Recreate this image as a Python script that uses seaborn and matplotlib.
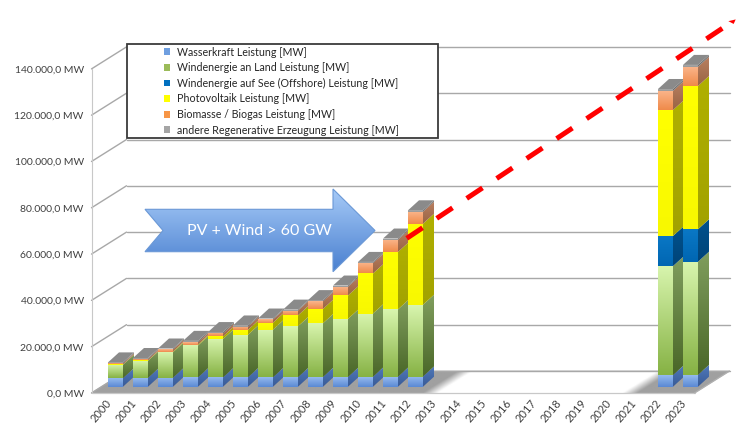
import numpy as np
import matplotlib
matplotlib.use("Agg")
import matplotlib.pyplot as plt
import seaborn as sns
from matplotlib.patches import Polygon, Rectangle, Patch
from matplotlib.colors import to_rgb

# ---------------- data ----------------
years = [str(y) for y in range(2000, 2024)]
gap = [None] * 9  # 2013 - 2021: no values
wasserkraft = [3700, 3800, 3900, 4000, 4000, 4050, 4050, 4100, 4200, 4200, 4300, 4300, 4400] + gap + [5000, 5100]
wind_land = [5800, 7400, 11000, 13800, 16600, 18400, 20600, 22000, 23200, 25100, 27300, 29100, 31000] + gap + [47100, 48900]
wind_see = [0, 0, 0, 0, 0, 0, 0, 0, 0, 0, 0, 0, 0] + gap + [13000, 14000]
photovoltaik = [100, 200, 300, 400, 1100, 2100, 3000, 4700, 6200, 10100, 17300, 24800, 35000] + gap + [54400, 61900]
biomasse = [500, 600, 900, 1000, 1300, 1400, 1400, 2100, 3300, 3800, 4500, 5300, 5200] + gap + [8300, 8300]
andere = [400, 400, 400, 600, 600, 500, 400, 400, 500, 500, 500, 500, 600] + gap + [800, 800]

series_labels = [
    "Wasserkraft Leistung [MW]",
    "Windenergie an Land Leistung [MW]",
    "Windenergie auf See (Offshore) Leistung [MW]",
    "Photovoltaik Leistung [MW]",
    "Biomasse / Biogas Leistung [MW]",
    "andere Regenerative Erzeugung Leistung [MW]",
]
y_tick_values = [0, 20000, 40000, 60000, 80000, 100000, 120000, 140000]
arrow_text = "PV + Wind > 60 GW"
trend_x = [11.65, 24.62]      # category position of the trend arrow
trend_y = [64100, 157300]     # MW

# ---------------- style ----------------
legend_colors = ['#6f9fe0', '#9bbb59', '#0070c0', '#ffff00', '#f79646', '#a5a5a5']
front_top = ['#95baee', '#d8f5ae', '#0a78c6', '#ffff00', '#fbb68c', '#a8a8a8']
front_bot = ['#5a89d4', '#86b244', '#0066b2', '#f8f800', '#ef8a4a', '#989898']
side_top = ['#5079ba', '#809e5e', '#00528e', '#b0b000', '#b98062', '#7c7c7c']
side_bot = ['#385a96', '#4a6728', '#004478', '#a2a200', '#9a6444', '#6a6a6a']
top_face_color = '#8a8a8a'
text_color = '#404040'

sns.set_theme(style="white")
plt.rcParams['font.family'] = ['Lato', 'DejaVu Sans']

W, H = 736, 423
fig = plt.figure(figsize=(W / 100, H / 100), dpi=100)
fig.patch.set_facecolor('white')

# pixel geometry of the pseudo-3D box
X0_PX, DX_PX = 115.5, 25.0
Y0_PX, KY = 386.7, 46.3 / 20000
AX_LEFT_PX, AX_BOTTOM_PX = 88, 396
ax = fig.add_axes([AX_LEFT_PX / W, (H - AX_BOTTOM_PX) / H, (W - AX_LEFT_PX) / W, AX_BOTTOM_PX / H])


def px2data(px, py):
    return ((px - X0_PX) / DX_PX, (Y0_PX - py) / KY)


FRONT_DX, FRONT_DY = -0.4, -6.3 / KY
BACK_DX, BACK_DY = 1.0, 15.7 / KY
BAR_W = 0.6
DEPTH_X, DEPTH_Y = 0.44, 10.0 / KY
n = len(years)
cat_lo, cat_hi = -0.56, n - 1 + 0.56


def grad_poly(verts, c_top, c_bot, z, rows=64):
    poly = Polygon(verts, closed=True, facecolor='none', edgecolor='none', zorder=z)
    ax.add_patch(poly)
    xs = [v[0] for v in verts]
    ys = [v[1] for v in verts]
    t = np.linspace(0, 1, rows)[:, None]
    ct, cb = np.array(to_rgb(c_top)), np.array(to_rgb(c_bot))
    img = (ct * (1 - t) + cb * t)[:, None, :]
    im = ax.imshow(img, extent=(min(xs), max(xs), min(ys), max(ys)), origin='upper',
                   aspect='auto', interpolation='bilinear', zorder=z)
    im.set_clip_path(poly)


# ---------------- floor, walls ----------------
fl, fr = cat_lo + FRONT_DX, cat_hi + FRONT_DX
bl, br = cat_lo + BACK_DX, cat_hi + BACK_DX
floor = [(fl, FRONT_DY), (fr, FRONT_DY), (br, BACK_DY), (bl, BACK_DY)]
floor_poly = Polygon(floor, closed=True, facecolor='white', edgecolor='#c8c8c8', lw=0.9, zorder=1)
ax.add_patch(floor_poly)

values = np.array([wasserkraft, wind_land, wind_see, photovoltaik, biomasse, andere], dtype=float)
has_bar = ~np.isnan(values[0])
bar_pos = np.arange(n)[has_bar]

# shadow on floor near bars
gx = np.linspace(fl, br, 700)
gy = np.linspace(FRONT_DY, BACK_DY, 20)
GX, GY = np.meshgrid(gx, gy)
tdep = (GY - FRONT_DY) / (BACK_DY - FRONT_DY)
xb = GX - (FRONT_DX + tdep * (BACK_DX - FRONT_DX))
dist = np.min(np.abs(xb[..., None] - bar_pos[None, None, :]), axis=-1)
s = np.clip((1.3 - dist) / 0.6, 0, 1)
gray = np.array(to_rgb('#a0a0a0'))
shade = np.ones(GX.shape + (3,)) * (1 - s[..., None]) + gray * s[..., None]
im = ax.imshow(shade, extent=(fl, br, FRONT_DY, BACK_DY), origin='lower', aspect='auto',
               interpolation='bilinear', zorder=1.1)
im.set_clip_path(floor_poly)
ax.plot([fl, fr], [FRONT_DY, FRONT_DY], color='#c8c8c8', lw=0.9, zorder=1.2)
ax.plot([fr, br], [FRONT_DY, BACK_DY], color='#b0b0b0', lw=0.9, zorder=1.2)

grid_c = '#a8a8a8'
for v in y_tick_values:
    ax.plot([bl, br], [v + BACK_DY, v + BACK_DY], color=grid_c, lw=1.0, zorder=1.5)
    ax.plot([fl, bl], [v + FRONT_DY, v + BACK_DY], color=grid_c, lw=1.0, zorder=1.5)
ax.plot([fl, fl], [FRONT_DY, y_tick_values[-1] + FRONT_DY], color='#c8c8c8', lw=0.8, zorder=1.5)

# ---------------- bars ----------------
cums = np.cumsum(values, axis=0)
for k in reversed(range(len(values))):
    sns.barplot(x=years, y=cums[k], order=years, color=front_top[k], width=BAR_W,
                saturation=1, errorbar=None, edgecolor='none', linewidth=0, zorder=3, ax=ax)

half = BAR_W / 2
for i in bar_pos:
    bottom = 0.0
    for k in range(len(values)):
        seg = values[k, i]
        if seg <= 0:
            continue
        y0, y1 = bottom, bottom + seg
        # front face gradient
        grad_poly([(i - half, y0), (i + half, y0), (i + half, y1), (i - half, y1)],
                  front_top[k], front_bot[k], 3.2)
        # side face
        xr = i + half
        grad_poly([(xr, y0), (xr + DEPTH_X, y0 + DEPTH_Y), (xr + DEPTH_X, y1 + DEPTH_Y), (xr, y1)],
                  side_top[k], side_bot[k], 2.5)
        bottom = y1
    top = bottom
    ax.add_patch(Polygon([(i - half, top), (i + half, top), (i + half + DEPTH_X, top + DEPTH_Y),
                          (i - half + DEPTH_X, top + DEPTH_Y)], closed=True,
                         facecolor=top_face_color, edgecolor='none', zorder=2.6))

# ---------------- annotations ----------------
# big blue arrow
arrow_px = [(145, 209.3), (333, 209.3), (333, 189), (375, 230.5), (333, 271.7),
            (333, 251.7), (145, 251.7), (163, 230.5)]
arrow_verts = [px2data(*p) for p in arrow_px]
grad_poly(arrow_verts, '#a6caf7', '#4a80d0', 5)
ax.add_patch(Polygon(arrow_verts, closed=True, facecolor='none', edgecolor='#6a98d6', lw=0.8, zorder=5.1))
tx, ty = px2data(259, 231)
ax.text(tx, ty, arrow_text, color='white', fontsize=11.5, ha='center', va='center', zorder=5.2)

# red dashed trend arrow
lw_pt = 3.6
ax.plot(trend_x, trend_y, color='#ff0000', lw=lw_pt, linestyle=(0, (19 * 0.72 / lw_pt, 17 * 0.72 / lw_pt)),
        dash_capstyle='butt', zorder=6)
p0 = ax.transData.transform((trend_x[0], trend_y[0]))
p1 = ax.transData.transform((trend_x[1], trend_y[1]))
u = (p1 - p0) / np.linalg.norm(p1 - p0)
nrm = np.array([-u[1], u[0]])
head = [p1 + 10 * nrm, p1 - 10 * nrm, p1 + 20 * u]
head_data = ax.transData.inverted().transform(np.array(head))
ax.add_patch(Polygon(head_data, closed=True, facecolor='#ff0000', edgecolor='none', zorder=6, clip_on=False))

# ---------------- axes / ticks ----------------
def fmt_de(v):
    s = f"{v:,.1f}"
    return s.replace(',', 'X').replace('.', ',').replace('X', '.') + " MW"


ax.set_yticks([v + FRONT_DY for v in y_tick_values], labels=[fmt_de(v) for v in y_tick_values])
ax.set_xticks(np.arange(n) + FRONT_DX, labels=years)
ax.tick_params(axis='y', length=0, pad=3, labelsize=7.5, labelcolor=text_color)
ax.tick_params(axis='x', length=0, pad=1, labelsize=8, labelcolor=text_color)
for lab in ax.get_xticklabels():
    lab.set_rotation(50)
    lab.set_ha('right')
    lab.set_va('top')
    lab.set_rotation_mode('anchor')
ax.set_xlabel('')
ax.set_ylabel('')
ax.grid(False)
for sp in ax.spines.values():
    sp.set_visible(False)
ax.set_facecolor('none')
ax.set_xlim((AX_LEFT_PX - X0_PX) / DX_PX, (W - X0_PX) / DX_PX)
ax.set_ylim((Y0_PX - AX_BOTTOM_PX) / KY, Y0_PX / KY)

# ---------------- legend ----------------
fig.add_artist(Rectangle((127 / W, 1 - 138 / H), (438 - 127) / W, (138 - 44) / H,
                         transform=fig.transFigure, facecolor='white', edgecolor='#3a3a3a',
                         lw=1.3, zorder=4))
handles = [Patch(facecolor=c, edgecolor='none') for c in legend_colors]
fig.legend(handles, series_labels, loc='upper left', bbox_to_anchor=(164 / W, 1 - 46.5 / H),
           frameon=False, fontsize=7.7, handlelength=0.6, handleheight=0.6, handletextpad=0.6,
           labelspacing=0.43, borderpad=0, borderaxespad=0, labelcolor='#262626')

fig.savefig('out.png', dpi=100, facecolor='white')
